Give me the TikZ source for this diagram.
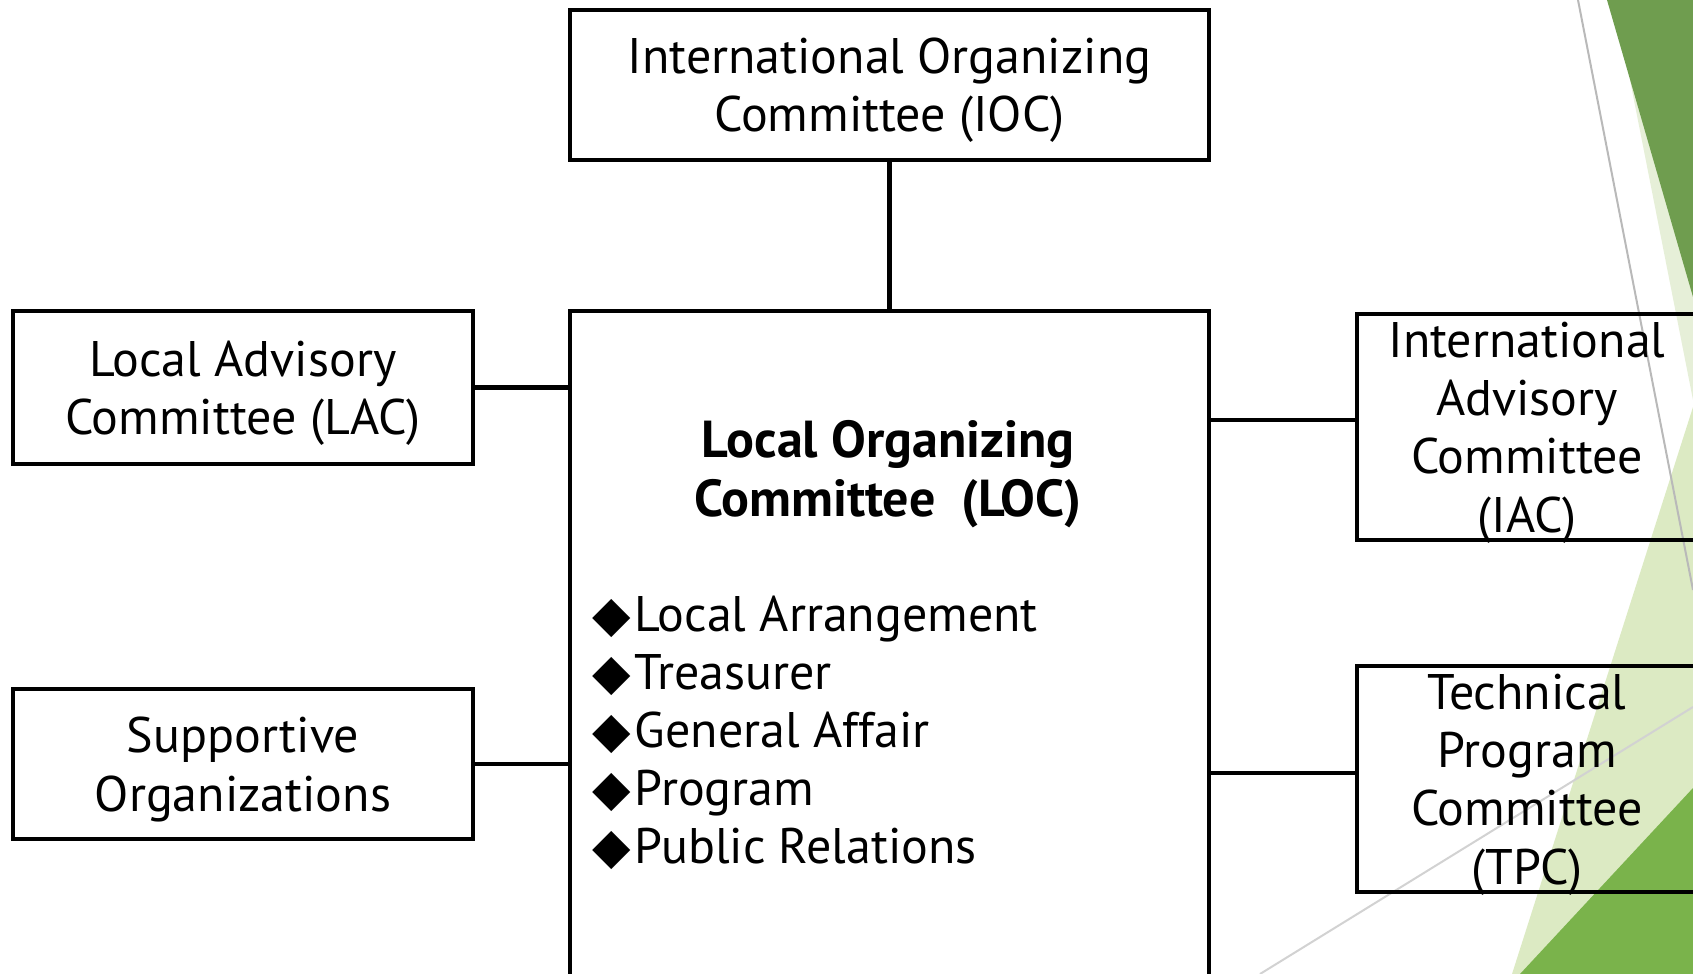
\documentclass[tikz,border=0pt]{standalone}
\usepackage{fontspec}
\setmainfont{PT Sans}
\newfontfamily\symfont{DejaVu Sans}
\usetikzlibrary{positioning}
\definecolor{facetdark}{HTML}{6F9D4F}
\definecolor{facetpale}{HTML}{E6EFD8}
\definecolor{facetlight}{HTML}{DCEAC3}
\definecolor{facetmid}{HTML}{7AB34B}
\tikzset{
    box/.style={draw, line width=2.3pt, align=center, inner sep=0pt, text depth=0pt, font=\fontsize{25}{29.2}\selectfont},
    link/.style={line width=2.2pt},
}
\newcommand{\dia}{{\symfont\char"25C6}\hspace{2pt}}

\begin{document}
\begin{tikzpicture}[x=0.5pt, y=-0.5pt]
            \useasboundingbox (0, 0) rectangle (1693, 974);
            \clip (0, 0) rectangle (1693, 974);
            % facet corner
            \fill[facetpale](1630, 80)--(1693, 80)--(1693, 400)--cycle;
            \fill[facetdark](1607, 0)--(1693, 0)--(1693, 297)--cycle;
            \fill[facetlight](1693, 407)--(1693, 974)--(1512, 974)--cycle;
            \fill[facetmid](1693, 788)--(1693, 974)--(1520, 974)--cycle;
            \draw[gray!55, line width=1pt](1578, 0)--(1693, 590);
            \draw[gray!35, line width=1pt](1260, 974)--(1693, 707);

            \node[box, minimum width=319.5pt, minimum height=75pt] (ioc) at (889.5, 85) {International Organizing\\Committee (IOC)};
            \node[box, minimum width=319.5pt, minimum height=344.5pt] (loc) at (889.5, 655.5) {};
            \node[font=\fontsize{26}{29.5}\selectfont\bfseries, align=center] (loctitle) at (888, 474) {Local Organizing\\Committee\ \ (LOC)};
            \node[font=\fontsize{25}{29}\selectfont, align=left, anchor=west, inner sep=0pt] (duties) at (592, 733) {\dia Local Arrangement\\\dia Treasurer\\\dia General Affair\\\dia Program\\\dia Public Relations};
            \node[box, minimum width=230pt, minimum height=76.5pt] (lac) at (243, 387.5) {Local Advisory\\Committee (LAC)};
            \node[box, minimum width=230pt, minimum height=75pt] (supp) at (243, 764) {Supportive\\Organizations};
            \node[box, minimum width=170pt, minimum height=113pt] (iac) at (1527, 427) {International\\Advisory\\Committee\\(IAC)};
            \node[box, minimum width=170pt, minimum height=113pt] (tpc) at (1527, 779) {Technical\\Program\\Committee\\(TPC)};

            \draw[link](ioc)--(loc);
            \draw[link](lac.east)--(lac.east -| loc.west);
            \draw[link](supp.east)--(supp.east -| loc.west);
            \draw[link]([yshift=3.5pt]iac.west)--([yshift=3.5pt]iac.west -| loc.east);
            \draw[link]([yshift=3pt]tpc.west)--([yshift=3pt]tpc.west -| loc.east);
\end{tikzpicture}
\end{document}
